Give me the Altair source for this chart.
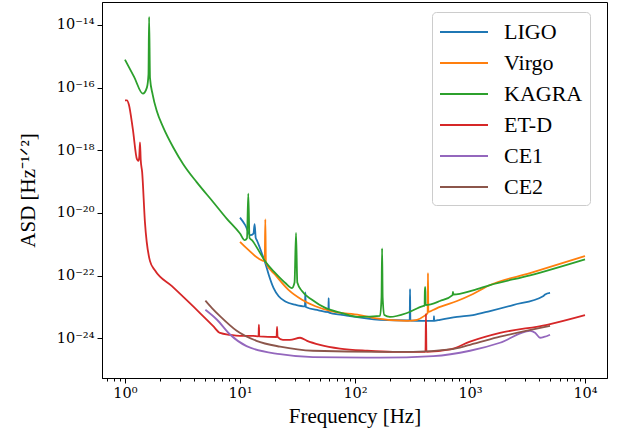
import altair as alt
import pandas as pd

names = ["LIGO", "Virgo", "KAGRA", "ET-D", "CE1", "CE2"]
colors = ["#1f77b4", "#ff7f0e", "#2ca02c", "#d62728", "#9467bd", "#8c564b"]

ligo_f = [10.0, 11.1, 12.3, 13.1, 13.4, 13.7, 14.0, 15.5, 16.6, 17.8, 19.6, 21.7,
          24.8, 30.3, 36.7, 37.0, 37.3, 48.2, 58.7, 59.0, 59.3, 77, 165, 299, 301,
          303, 390, 484, 486, 488, 548, 771, 1062, 1493, 2366, 4315, 4500, 4966]
ligo_asd = [7.1e-21, 4.1e-21, 1.95e-21, 2.2e-21, 4.4e-21, 1.6e-21, 1.35e-21, 5.1e-22,
            2.5e-22, 1.05e-22, 4.0e-23, 2.2e-23, 1.5e-23, 1.18e-23, 1.05e-23, 2.9e-23,
            1.0e-23, 7.8e-24, 6.8e-24, 1.9e-23, 6.6e-24, 5.6e-24, 3.9e-24, 3.7e-24,
            3.7e-23, 3.7e-24, 3.6e-24, 3.6e-24, 5.1e-24, 3.6e-24, 3.9e-24, 4.8e-24,
            5.5e-24, 7.4e-24, 1.15e-23, 2.2e-23, 2.5e-23, 2.8e-23]

virgo_f = [10.0, 11.9, 14.5, 16.4, 16.6, 16.8, 20.3, 26.4, 34.6, 45.3, 63.0, 110,
           143, 283, 346, 398, 428, 431, 434, 477, 548, 771, 1062, 1493, 3325, 10000]
virgo_asd = [1.2e-21, 6.5e-22, 3.5e-22, 2.9e-22, 6.2e-21, 2.6e-22, 1.05e-22, 3.5e-23,
             1.7e-23, 1.05e-23, 7.2e-24, 5.5e-24, 4.5e-24, 3.6e-24, 3.9e-24, 5.1e-24,
             6.4e-24, 1.2e-22, 7.0e-24, 8.0e-24, 1.0e-23, 1.55e-23, 2.6e-23, 5.0e-23,
             1.2e-22, 4.2e-22]

kagra_f = [1.0, 1.2, 1.43, 1.55, 1.60, 1.62, 1.65, 1.74, 1.89, 2.15, 2.63, 3.21,
           4.20, 5.86, 7.66, 10.0, 11.0, 11.5, 11.8, 12.1, 12.7, 14.5, 16.6, 20.3,
           24.8, 28.3, 29.8, 30.7, 31.5, 34.6, 42.3, 55.2, 77, 110, 165, 170, 172,
           174, 180, 201, 283, 390, 403, 405, 409, 411, 548, 705, 711, 717, 1062,
           1493, 3325, 10000]
kagra_asd = [7.8e-16, 2.2e-16, 6.4e-17, 1.0e-16, 2.6e-16, 1.8e-14, 2.0e-16, 6.0e-17,
             1.78e-17, 5.4e-18, 1.23e-18, 3.6e-19, 9.6e-20, 2.2e-20, 6.6e-21, 2.2e-21,
             1.35e-21, 1.55e-21, 4.1e-20, 1.6e-21, 1.35e-21, 6.4e-22, 2.8e-22, 1.2e-22,
             5.8e-23, 4.0e-23, 6.0e-23, 2.3e-21, 6.0e-23, 3.2e-23, 1.7e-23, 9.3e-24,
             6.4e-24, 4.8e-24, 5.2e-24, 2.0e-23, 7.4e-22, 2.0e-23, 5.5e-24, 4.8e-24,
             6.4e-24, 1.07e-23, 1.1e-23, 4.3e-23, 4.3e-23, 1.15e-23, 1.55e-23, 2.4e-23,
             3.0e-23, 2.5e-23, 3.4e-23, 5.0e-23, 1.02e-22, 3.3e-22]

etd_f = [1.0, 1.04, 1.08, 1.17, 1.27, 1.31, 1.33, 1.35, 1.37, 1.41, 1.49, 1.65,
         1.82, 2.56, 4.49, 5.82, 6.7, 8.19, 10.0, 13.0, 14.5, 14.6, 14.7, 20.8,
         21.0, 21.2, 23.6, 27.2, 33.3, 38.3, 49.6, 74, 127, 214, 410, 414, 418,
         670, 1000, 1823, 4677, 10000]
etd_asd = [3.9e-17, 3.9e-17, 2.9e-17, 4.7e-18, 5.2e-19, 4.6e-19, 6.0e-19, 1.8e-18,
           5.0e-19, 2.0e-19, 5.2e-21, 2.9e-22, 1.48e-22, 4.6e-23, 6.4e-24, 2.5e-24,
           1.48e-24, 1.29e-24, 1.2e-24, 1.2e-24, 1.15e-24, 2.7e-24, 1.15e-24, 1.1e-24,
           2.3e-24, 1.1e-24, 8.9e-25, 8.9e-25, 1.04e-24, 8.3e-25, 6.2e-25, 4.7e-25,
           4.0e-25, 3.7e-25, 3.7e-25, 6.0e-24, 3.7e-25, 4.4e-25, 7.8e-25, 1.48e-24,
           2.7e-24, 5.5e-24]

ce1_f = [5.0, 6.31, 8.19, 11.4, 22.3, 43.1, 165, 479, 1000, 1823, 3325, 3680,
         4063, 4400, 4966]
ce1_asd = [8.1e-24, 3.9e-24, 1.32e-24, 5.6e-25, 3.1e-25, 2.5e-25, 2.4e-25, 2.7e-25,
           4.0e-25, 7.2e-25, 1.73e-24, 1.5e-24, 1.04e-24, 1.1e-24, 1.3e-24]

ce2_f = [5.0, 5.76, 6.70, 9.36, 13.9, 22.3, 43.1, 165, 319, 670, 1000, 1823, 4966]
ce2_asd = [1.6e-23, 8.9e-24, 5.1e-24, 1.74e-24, 8.3e-25, 5.4e-25, 4.0e-25, 3.7e-25,
           3.7e-25, 4.4e-25, 6.2e-25, 1.12e-24, 2.5e-24]

y_ticks = [1e-14, 1e-16, 1e-18, 1e-20, 1e-22, 1e-24]
x_ticks = [k * 10.0 ** e for e in range(-1, 5) for k in range(1, 10)]
x_ticks = [v for v in x_ticks if 0.63 <= v <= 15500]

series = [(ligo_f, ligo_asd), (virgo_f, virgo_asd), (kagra_f, kagra_asd),
          (etd_f, etd_asd), (ce1_f, ce1_asd), (ce2_f, ce2_asd)]
rows = []
for name, (fs, vals) in zip(names, series):
    for i, (f, a) in enumerate(zip(fs, vals)):
        rows.append({"det": name, "f": f, "asd": a, "i": i})
df = pd.DataFrame(rows)

E = "round(log(datum.value)/LN10)"
ISMAJ = f"abs(log(datum.value)/LN10 - {E}) < 0.001"
SUP = "⁰¹²³⁴⁵⁶⁷⁸⁹"
sup = (f"(({E})<0 ? '⁻' : '') + (abs({E})>=10 ? substring('{SUP}', floor(abs({E})/10), "
       f"floor(abs({E})/10)+1) : '') + substring('{SUP}', abs({E})%10, abs({E})%10+1)")
label_expr = f"({ISMAJ}) ? '10' + {sup} : ''"

FONT = "Liberation Serif"
TICKFONT = "DejaVu Serif"

xscale = alt.Scale(type="log", domain=[0.631, 15530], nice=False)
yscale = alt.Scale(type="log", domain=[5.4e-26, 5.4e-14], nice=False)
cscale = alt.Scale(domain=names, range=colors)

layers = []
for name in names:
    layers.append(
        alt.Chart(df).transform_filter(alt.datum.det == name).mark_line(
            strokeWidth=1.8, clip=True, interpolate="monotone"
        ).encode(
            x=alt.X("f:Q", scale=xscale, title="Frequency [Hz]",
                    axis=alt.Axis(values=x_ticks, labelExpr=label_expr,
                                  tickSize={"condition": {"test": ISMAJ, "value": 5}, "value": 3},
                                  labelFlush=False, labelOverlap=False)),
            y=alt.Y("asd:Q", scale=yscale, title="ASD [Hz⁻¹ᐟ²]",
                    axis=alt.Axis(values=y_ticks, labelExpr=label_expr, tickSize=5,
                                  labelOverlap=False, labelFlush=False,
                                  titleX=-64, titleY=188)),
            color=alt.Color("det:N", scale=cscale, title=None,
                            legend=alt.Legend(orient="none", legendX=330, legendY=10,
                                              symbolType="M-1,0H3", symbolSize=576,
                                              symbolStrokeWidth=2, labelFontSize=22,
                                              labelFont=FONT, rowPadding=7,
                                              padding=7, labelOffset=39,
                                              strokeColor="#cccccc", fillColor="#ffffffcc",
                                              cornerRadius=4)),
            order="i:Q",
        )
    )

chart = alt.layer(*layers).properties(
    width=505, height=376,
    autosize=alt.AutoSizeParams(type="none"),
    padding={"left": 102, "top": 2, "right": 21, "bottom": 62},
).configure_view(stroke="black", strokeWidth=1).configure_axis(
    grid=False, domainColor="black", tickColor="black", labelColor="black",
    labelFont=TICKFONT, labelFontSize=14.5, titleFont=FONT, titleFontSize=21,
    titleFontWeight="normal", titleColor="black", labelPadding=3,
).configure_axisX(titlePadding=6).configure_legend(
    labelColor="black"
)

chart.save("out.html", embed_options={"renderer": "svg", "actions": False})
